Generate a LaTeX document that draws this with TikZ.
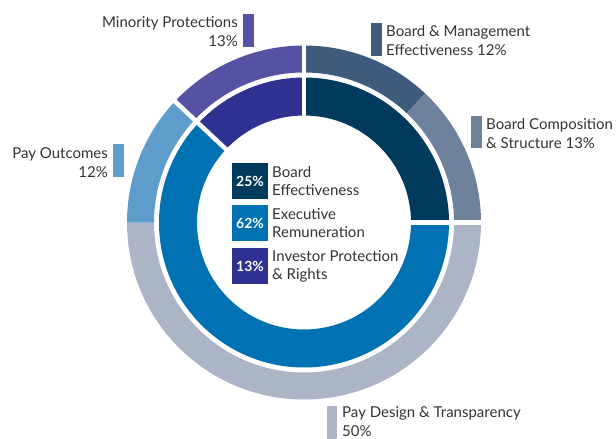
\documentclass[tikz,border=0pt]{standalone}
\usepackage{fontspec}
\setmainfont{Lato}
\usepackage{xcolor}

\definecolor{bleunuit}{HTML}{003A5D}
\definecolor{bleugestion}{HTML}{3E5B7B}
\definecolor{bleucompo}{HTML}{6F829C}
\definecolor{bleuremu}{HTML}{0071B3}
\definecolor{grisdesign}{HTML}{ABB5C6}
\definecolor{bleupay}{HTML}{5E9CCB}
\definecolor{violetprot}{HTML}{2E3192}
\definecolor{violetmino}{HTML}{5552A3}
\definecolor{texte}{HTML}{333333}

% secteur : couleur, angle debut, angle fin, rayon ext, rayon int
\newcommand{\secteur}[5]{%
  \fill[#1] (#2:#4) arc[start angle=#2, end angle=#3, radius=#4] -- (#3:#5) arc[start angle=#3, end angle=#2, radius=#5] -- cycle;}

\begin{document}
\begin{tikzpicture}[x=1pt, y=-1pt,
  etiquette/.style={text=texte, font=\fontsize{15}{19}\selectfont, inner sep=0pt},
  legende/.style={text=texte, font=\fontsize{15}{18}\selectfont, inner sep=0pt, anchor=west, align=left},
  pourcent/.style={minimum size=36pt, inner sep=0pt, text=white, font=\fontsize{14}{16}\selectfont\bfseries}]

% Cadre
\useasboundingbox (0,0) rectangle (616,439);

\begin{scope}[shift={(304,222.5)}]
% Anneau interieur
\secteur{bleunuit}{90}{0}{145pt}{107pt}
\secteur{bleuremu}{0}{-223.2}{145pt}{107pt}
\secteur{violetprot}{136.8}{90}{145pt}{107pt}

% Anneau exterieur
\secteur{bleugestion}{90}{46.8}{177pt}{150pt}
\secteur{bleucompo}{46.8}{0}{177pt}{150pt}
\secteur{grisdesign}{0}{-180}{177pt}{150pt}
\secteur{bleupay}{180}{136.8}{177pt}{150pt}
\secteur{violetmino}{136.8}{90}{177pt}{150pt}

% Separations blanches
\foreach \a in {90, 0, 136.8}
  \draw[white, line width=4.5pt] (\a:100pt) -- (\a:182pt);
\end{scope}

% Legende centrale
\node[pourcent, fill=bleunuit] (be) at (250,181) {25\%};
\node[legende] (betxt) at (272,181) {Board\\Effectiveness};
\node[pourcent, fill=bleuremu] (er) at (250,223) {62\%};
\node[legende] (ertxt) at (272,223) {Executive\\Remuneration};
\node[pourcent, fill=violetprot] (ip) at (250,266) {13\%};
\node[legende] (iptxt) at (272,266) {Investor Protection\\\& Rights};

% Etiquettes exterieures
\fill[violetmino] (243,14) rectangle (254,47);
\node[etiquette, anchor=east, align=right] (mp) at (238,32) {Minority Protections\\13\%};

\fill[bleugestion] (371,23) rectangle (382,56);
\node[etiquette, anchor=west, align=left] (bm) at (386,41) {Board \& Management\\Effectiveness 12\%};

\fill[bleucompo] (471,116) rectangle (482,148);
\node[etiquette, anchor=west, align=left] (bc) at (486,134) {Board Composition\\\& Structure 13\%};

\fill[bleupay] (113,144) rectangle (124,177);
\node[etiquette, anchor=east, align=right] (po) at (108,163) {Pay Outcomes\\12\%};

\fill[grisdesign] (327,406) rectangle (337,439);
\node[etiquette, anchor=west, align=left] (pd) at (342,421.5) {Pay Design \& Transparency\\50\%};

\end{tikzpicture}
\end{document}
